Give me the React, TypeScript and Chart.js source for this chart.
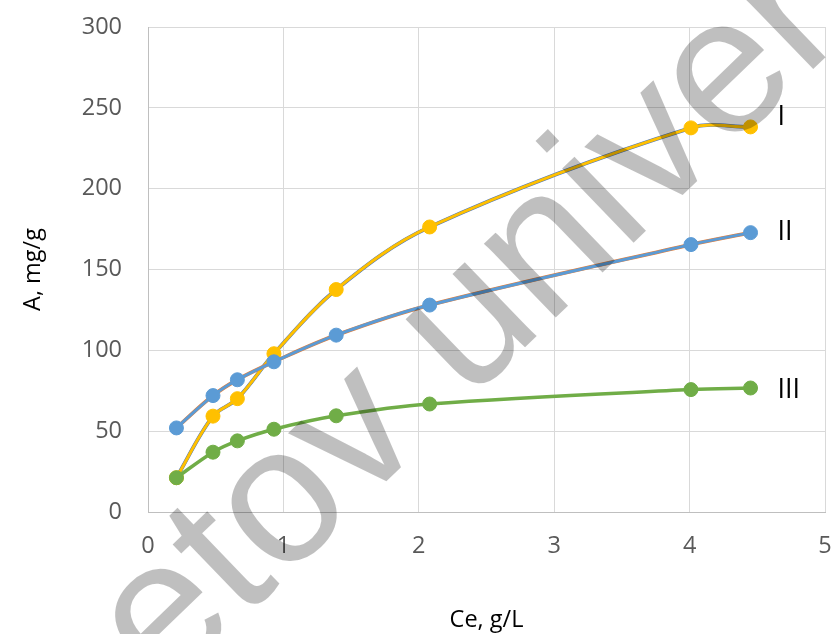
import React, { useEffect, useRef } from "react";
import { Chart, registerables } from "chart.js";

Chart.register(...registerables);

const ceValues = [0.21, 0.48, 0.66, 0.93, 1.39, 2.08, 4.01, 4.45];
const seriesI = [21.2, 59.3, 70.1, 97.9, 137.6, 176.3, 237.6, 238.2];
const seriesII = [52.0, 72.0, 81.8, 92.9, 109.4, 128.0, 165.4, 172.8];
const seriesIII = [21.2, 37.0, 44.0, 51.2, 59.5, 66.8, 75.7, 76.7];
const seriesNames = ["I", "II", "III"];
const xTitle = "Ce, g/L";
const yTitle = "A, mg/g";
const watermarkText = "etov univer";

const toPoints = (ys: number[]) => ceValues.map((x, i) => ({ x, y: ys[i] }));

const seriesLabelPlugin = {
  id: "seriesLabels",
  afterDatasetsDraw(chart: any) {
    const ctx = chart.ctx;
    ctx.save();
    ctx.font = '27px "Open Sans"';
    ctx.fillStyle = "#000000";
    ctx.textAlign = "left";
    ctx.textBaseline = "middle";
    chart.data.datasets.forEach((ds: any, i: number) => {
      if (!ds.seriesLabel) return;
      const meta = chart.getDatasetMeta(i);
      const last = meta.data[meta.data.length - 1];
      ctx.fillText(ds.seriesLabel, last.x + 27, last.y + (ds.labelShift || 0));
    });
    ctx.restore();
  },
};

const watermarkPlugin = {
  id: "watermark",
  afterDraw(chart: any) {
    const ctx = chart.ctx;
    ctx.save();
    ctx.translate(164, 696);
    ctx.rotate((-44 * Math.PI) / 180);
    ctx.font = '195px "Liberation Sans"';
    ctx.fillStyle = "rgba(0,0,0,0.25)";
    ctx.textAlign = "left";
    ctx.textBaseline = "alphabetic";
    ctx.fillText(watermarkText, 0, 0);
    ctx.restore();
  },
};

export default function App() {
  const canvasRef = useRef<HTMLCanvasElement | null>(null);

  useEffect(() => {
    document.body.style.margin = "0";
    document.body.style.overflow = "hidden";
    const tickFont = { family: '"Open Sans"', size: 23.5 };
    const titleFont = { family: '"Open Sans"', size: 23.5 };
    const chart = new Chart(canvasRef.current as HTMLCanvasElement, {
      type: "line",
      data: {
        datasets: [
          {
            data: toPoints(seriesIII),
            borderColor: "#70AD47",
            backgroundColor: "#70AD47",
            borderWidth: 3.5,
            pointRadius: 7,
            pointBorderWidth: 1,
            pointBorderColor: "#70AD47",
            tension: 0.35,
            seriesLabel: seriesNames[2],
            labelShift: 2,
          } as any,
          {
            data: toPoints(seriesII),
            borderColor: "#5B9BD5",
            backgroundColor: "#5B9BD5",
            borderWidth: 3,
            pointRadius: 7,
            pointBorderWidth: 1,
            pointBorderColor: "#5B9BD5",
            tension: 0.35,
            seriesLabel: seriesNames[1],
            labelShift: 0,
          } as any,
          {
            data: toPoints(seriesII),
            borderColor: "#ED7D31",
            borderWidth: 3.8,
            pointRadius: 0,
            tension: 0.35,
          },
          {
            data: toPoints(seriesI),
            borderColor: "#FFC000",
            backgroundColor: "#FFC000",
            borderWidth: 3,
            pointRadius: 7,
            pointBorderWidth: 1,
            pointBorderColor: "#FFC000",
            tension: 0.35,
            seriesLabel: seriesNames[0],
            labelShift: -10,
          } as any,
          {
            data: toPoints(seriesI),
            borderColor: "#4472C4",
            borderWidth: 3.8,
            pointRadius: 0,
            tension: 0.35,
          },
        ],
      },
      options: {
        animation: false,
        responsive: true,
        maintainAspectRatio: false,
        layout: { padding: { top: 27, right: 8, left: 0, bottom: 0 } },
        plugins: {
          legend: { display: false },
          tooltip: { enabled: false },
        },
        scales: {
          x: {
            type: "linear",
            min: 0,
            max: 5,
            ticks: { stepSize: 1, font: tickFont, color: "#595959", padding: 20 },
            grid: { color: "#d9d9d9", lineWidth: 1, drawTicks: false },
            border: { color: "#bfbfbf", width: 1 },
            title: {
              display: true,
              text: xTitle,
              font: titleFont,
              color: "#000000",
              padding: { top: 0, bottom: 0 },
            },
            afterFit(scale: any) {
              scale.height = 122;
              scale.paddingLeft = 0;
              scale.paddingRight = 0;
              scale.paddingTop = 0;
              scale.paddingBottom = 0;
            },
          },
          y: {
            type: "linear",
            min: 0,
            max: 300,
            ticks: { stepSize: 50, font: tickFont, color: "#595959", padding: 26 },
            grid: { color: "#d9d9d9", lineWidth: 1, drawTicks: false },
            border: { color: "#bfbfbf", width: 1 },
            title: {
              display: true,
              text: yTitle,
              font: titleFont,
              color: "#000000",
              padding: { top: 19, bottom: 0 },
            },
            afterFit(scale: any) {
              scale.width = 148;
              scale.paddingLeft = 0;
              scale.paddingRight = 0;
              scale.paddingTop = 0;
              scale.paddingBottom = 0;
            },
          },
        },
      },
      plugins: [seriesLabelPlugin, watermarkPlugin],
    });
    return () => chart.destroy();
  }, []);

  return (
    <div style={{ position: "relative", width: 833, height: 634, background: "#ffffff" }}>
      <canvas ref={canvasRef} />
    </div>
  );
}
